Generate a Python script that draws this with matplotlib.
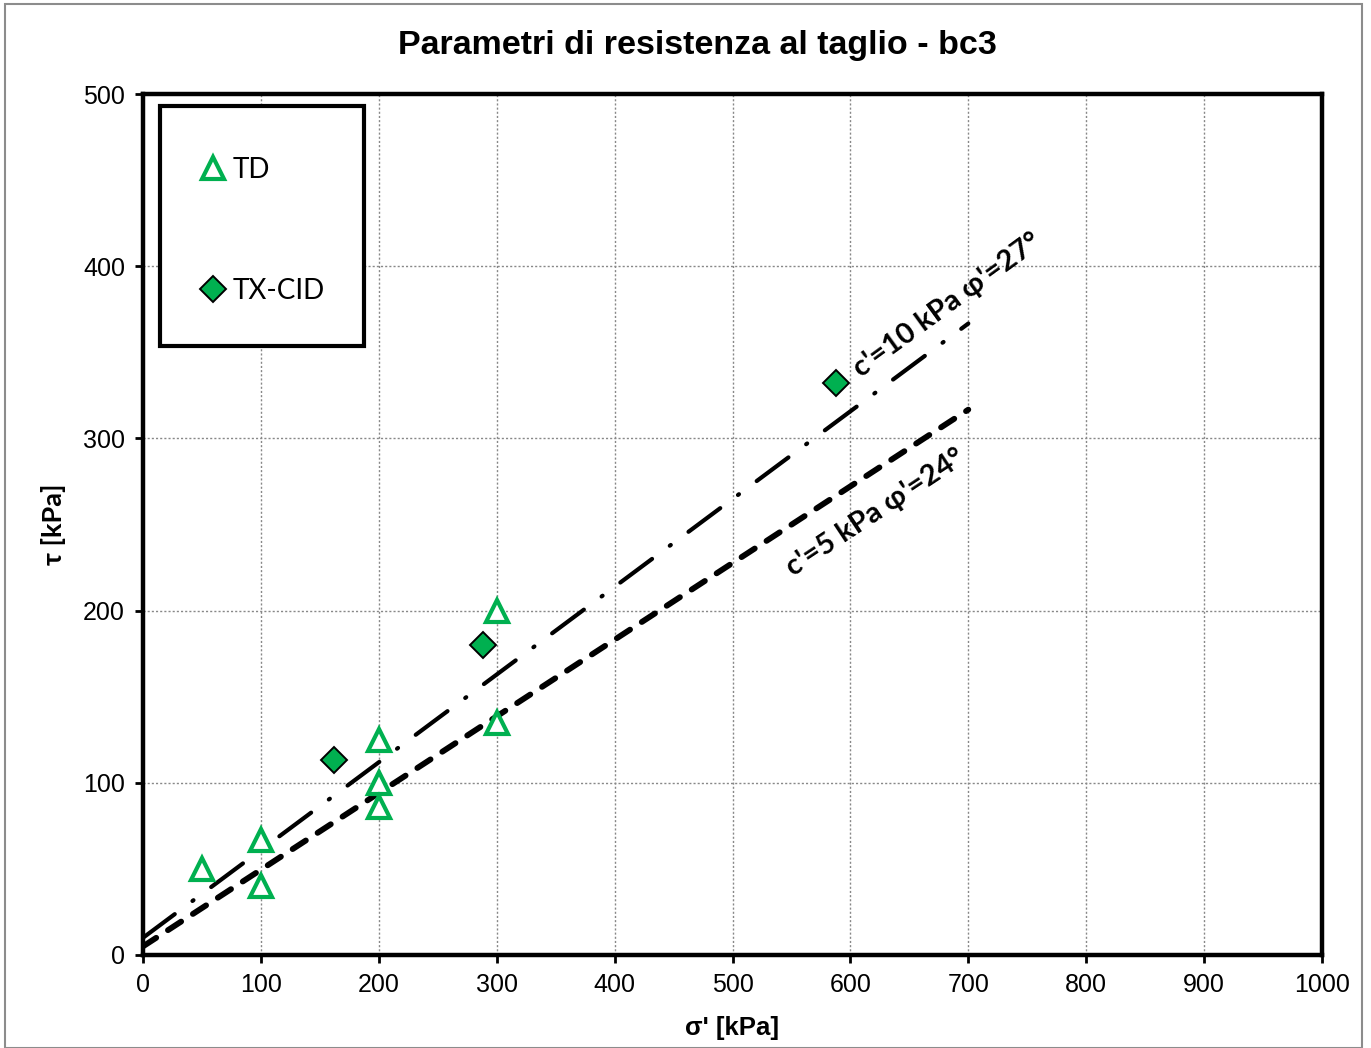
import matplotlib
matplotlib.use("Agg")
from matplotlib import pyplot
from matplotlib.patches import Rectangle

# data
td_sigma = [50, 100, 100, 200, 200, 200, 300, 300]
td_tau = [50, 67, 40, 125, 100, 86, 200, 135]
cid_sigma = [162, 288, 588]
cid_tau = [113, 180, 332]

# envelope end points (c'=10 phi'=27, c'=5 phi'=24)
env1_sigma = [0, 700]
env1_tau = [10, 366.7]
env2_sigma = [0, 700]
env2_tau = [5, 316.7]

xticks = [0, 100, 200, 300, 400, 500, 600, 700, 800, 900, 1000]
yticks = [0, 100, 200, 300, 400, 500]

green = '#00B050'

fig = pyplot.figure(figsize=(13.71, 10.48), dpi=100)
ax = fig.add_axes([143 / 1371, 1 - 955 / 1048, (1322 - 143) / 1371, (955 - 94) / 1048])

# outer chart border
fig.patches.append(Rectangle((5 / 1371, 0), 1357 / 1371, 1 - 4 / 1048,
                             transform=fig.transFigure, fill=False,
                             edgecolor='#8c8c8c', linewidth=1.5))

ax.plot(env1_sigma, env1_tau, color='black', linewidth=3.0,
        linestyle=(0, (9.5, 5.3, 0.3, 5.3)), dash_capstyle='round', zorder=3)
ax.plot(env2_sigma, env2_tau, color='black', linewidth=4.2,
        linestyle=(0, (2.7, 2.4)), dash_capstyle='round', zorder=3)

ax.plot(td_sigma, td_tau, linestyle='none', marker='^', markersize=16,
        markerfacecolor='white', markeredgecolor=green, markeredgewidth=3,
        label='TD', zorder=4)
ax.plot(cid_sigma, cid_tau, linestyle='none', marker='D', markersize=13,
        markerfacecolor=green, markeredgecolor='black', markeredgewidth=1.4,
        label='TX-CID', zorder=4)

ax.set_xlim(0, 1000)
ax.set_ylim(0, 500)
ax.set_xticks(xticks)
ax.set_yticks(yticks)
ax.tick_params(axis='both', direction='out', length=6, width=2, labelsize=18, pad=7)
for lbl in ax.get_xticklabels() + ax.get_yticklabels():
    lbl.set_fontfamily('Liberation Sans')
ax.grid(True, color='#888888', linestyle=(0, (1.5, 1.5)), linewidth=1)
for s in ax.spines.values():
    s.set_linewidth(3.2)

fig.text(697 / 1371, 1 - 45 / 1048, 'Parametri di resistenza al taglio - bc3', fontsize=24.5,
         fontweight='bold', family='Liberation Sans', ha='center', va='center')
ax.set_xlabel("σ' [kPa]", fontsize=18.5, fontweight='bold', family='Liberation Sans', labelpad=14)
ax.set_ylabel('τ [kPa]', fontsize=19.5, fontweight='bold', family='Lato', labelpad=12)

ax.text(682, 377, "c'=10 kPa φ'=27°", rotation=36, fontsize=21, fontweight='bold',
        family=['Lato', 'DejaVu Sans'], ha='center', va='center', rotation_mode='anchor')
ax.text(621, 257, "c'=5 kPa φ'=24°", rotation=33.5, fontsize=21, fontweight='bold',
        family=['Lato', 'DejaVu Sans'], ha='center', va='center', rotation_mode='anchor')

# legend box drawn separately so the entries can sit far apart
ax.add_patch(Rectangle((17 / 1179, 1 - 252 / 861), 204 / 1179, 240 / 861,
                       transform=ax.transAxes, facecolor='white', edgecolor='black',
                       linewidth=3, zorder=4.5, clip_on=False))
leg = ax.legend(loc='upper left', bbox_to_anchor=(17 / 1179, 1 - 24 / 861), frameon=False,
                labelspacing=3.42, handletextpad=0.2, borderpad=1.4, handlelength=1.0,
                borderaxespad=0, prop={'family': 'Lato', 'size': 20})
leg.set_zorder(5)

fig.savefig('out.png', dpi=100)
